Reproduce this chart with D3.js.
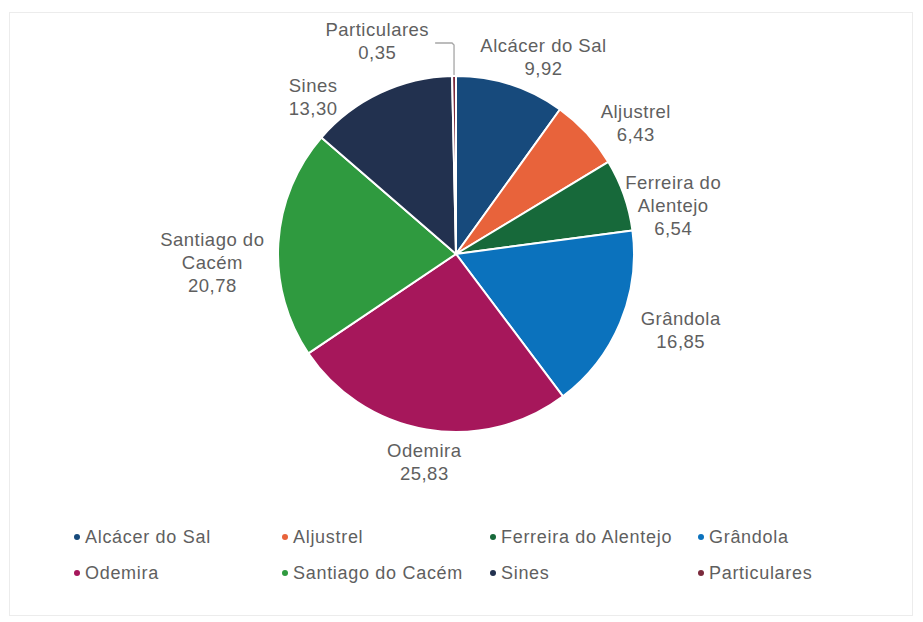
<!DOCTYPE html>
<html>
<head>
<meta charset="utf-8">
<script src="https://cdn.jsdelivr.net/npm/d3@7"></script>
<style>
  body { margin: 0; background: #fff; }
  text { font-family: "Liberation Sans", Arial, sans-serif; fill: #5f5f5f; }
</style>
</head>
<body>
<svg width="923" height="622"></svg>
<script>
// municipalities and their share (%)
const names = ["Alcácer do Sal", "Aljustrel", "Ferreira do Alentejo", "Grândola",
               "Odemira", "Santiago do Cacém", "Sines", "Particulares"];
const values = [9.92, 6.43, 6.54, 16.85, 25.83, 20.78, 13.30, 0.35];
// how the data labels are broken into lines
const labelLines = [["Alcácer do Sal"], ["Aljustrel"], ["Ferreira do", "Alentejo"], ["Grândola"],
                    ["Odemira"], ["Santiago do", "Cacém"], ["Sines"], ["Particulares"]];
const colors = ["#174a7c", "#e8633b", "#17693a", "#0b72bd",
                "#a6175b", "#2f9a3f", "#22314f", "#7b2a3c"];

// layout
const cx = 456, cy = 254, r = 178, gap = 18, lineH = 23;
// label nudges (Excel best fit moves some labels)
const nudge = [[8, 11], [10, 18], [-13, 28], [7, -9], [7, -8], [4, 22], [-49, 41], [-76, 6]];

const svg = d3.select("svg");
svg.append("rect").attr("x", 9.5).attr("y", 12.5).attr("width", 903).attr("height", 603)
  .attr("fill", "#fff").attr("stroke", "#ececec");

const data = names.map((n, i) => ({ name: n, value: values[i], lines: labelLines[i], i }));
const pie = d3.pie().value(d => d.value).sort(null);
const arcs = pie(data);
const arc = d3.arc().innerRadius(0).outerRadius(r);

const g = svg.append("g").attr("transform", `translate(${cx},${cy})`);
g.selectAll("path.slice").data(arcs).enter().append("path")
  .attr("class", "slice")
  .attr("d", arc)
  .attr("fill", d => colors[d.data.i])
  .attr("stroke", "#fff")
  .attr("stroke-width", 2)
  .attr("stroke-linejoin", "round");

const fmt = v => d3.format(".2f")(v).replace(".", ",");

const labels = g.selectAll("g.lbl").data(arcs).enter().append("g").attr("class", "lbl");
labels.each(function (d) {
  const sel = d3.select(this);
  const lines = d.data.lines.concat([fmt(d.data.value)]);
  const t = sel.selectAll("text").data(lines).enter().append("text")
    .attr("text-anchor", "middle")
    .attr("dominant-baseline", "central")
    .style("font-size", "18.5px")
    .style("letter-spacing", "0.5px")
    .text(s => s);
  const w = d3.max(t.nodes(), n => n.getComputedTextLength());
  const h = lines.length * lineH;
  const a = (d.startAngle + d.endAngle) / 2;
  const px = Math.sin(a) * (r + gap), py = -Math.cos(a) * (r + gap);
  const nx = px + Math.sin(a) * w / 2 + nudge[d.data.i][0];
  const ny = py - Math.cos(a) * h / 2 + nudge[d.data.i][1];
  t.attr("x", nx).attr("y", (s, k) => ny + (k - (lines.length - 1) / 2) * lineH);
  d.box = { x: nx, y: ny, w, h };
});

// leader line for the tiny slice
const last = arcs[arcs.length - 1];
const la = (last.startAngle + last.endAngle) / 2;
const ex = Math.sin(la) * (r + 1), ey = -Math.cos(la) * (r + 1);
const lb = last.box;
const ly = lb.y + 2;
g.append("path")
  .attr("d", `M${lb.x + lb.w / 2 + 6},${ly} H${ex - 2} L${ex},${ly + 2} V${ey}`)
  .attr("fill", "none").attr("stroke", "#a6a6a6").attr("stroke-width", 1.3);

// legend: 4 columns, 2 rows
const colX = d3.scalePoint().domain(d3.range(4)).range([77, 701]);
const rowY = d3.scalePoint().domain(d3.range(2)).range([537, 573]);
const leg = svg.selectAll("g.leg").data(data).enter().append("g")
  .attr("class", "leg")
  .attr("transform", d => `translate(${colX(d.i % 4)},${rowY(Math.floor(d.i / 4))})`);
leg.append("circle").attr("r", 3).attr("fill", d => colors[d.i]);
leg.append("text").attr("x", 8).attr("dominant-baseline", "central")
  .style("font-size", "18px").style("letter-spacing", "0.7px")
  .text(d => d.name);
</script>
</body>
</html>
